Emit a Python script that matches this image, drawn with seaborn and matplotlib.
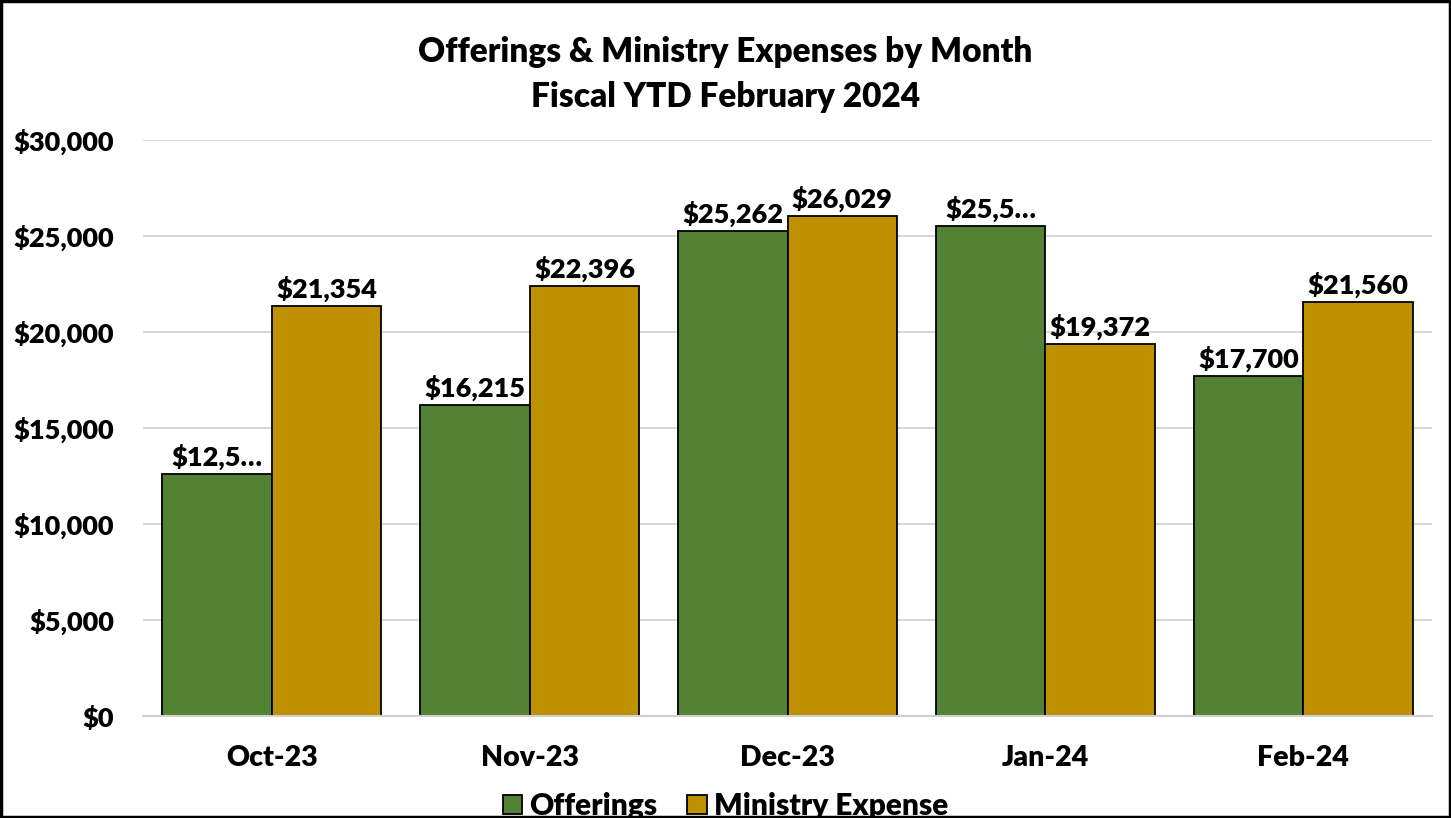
import seaborn as sns
import matplotlib.pyplot as plt
import pandas as pd
from matplotlib.patches import Rectangle
from matplotlib.ticker import FuncFormatter

# data
months = ['Oct-23', 'Nov-23', 'Dec-23', 'Jan-24', 'Feb-24']
offerings = [12600, 16215, 25262, 25520, 17700]
ministry_expense = [21354, 22396, 26029, 19372, 21560]
offering_labels = ['$12,5…', '$16,215', '$25,262', '$25,5…', '$17,700']
expense_labels = ['$21,354', '$22,396', '$26,029', '$19,372', '$21,560']

df = pd.DataFrame({
    'Month': months * 2,
    'Amount': offerings + ministry_expense,
    'Series': ['Offerings'] * 5 + ['Ministry Expense'] * 5,
})

sns.set_style('white')
plt.rcParams['font.family'] = ['Lato', 'DejaVu Sans']
plt.rcParams['text.color'] = 'black'
W = 'heavy'

fig = plt.figure(figsize=(14.51, 8.18), dpi=100)
ax = fig.add_axes([143 / 1451, 1 - 716 / 818, (1432 - 143) / 1451, (716 - 140) / 818])

sns.barplot(data=df, x='Month', y='Amount', hue='Series',
            palette={'Offerings': '#548235', 'Ministry Expense': '#BF9000'},
            width=0.85, gap=0, edgecolor='black', linewidth=1.3,
            saturation=1, ax=ax, legend=True)

for cont, labs in zip(ax.containers, [offering_labels, expense_labels]):
    ax.bar_label(cont, labels=labs, padding=3, fontsize=19.5, fontweight=W, color='black')

ax.set_ylim(0, 30000)
ax.set_xlim(-0.5, 4.5)
ax.set_yticks(range(0, 30001, 5000))
ax.yaxis.set_major_formatter(FuncFormatter(lambda v, p: f'${v:,.0f}'))
ax.grid(axis='y', color='#d9d9d9', linewidth=1.5)
ax.set_axisbelow(True)
for s in ['top', 'right', 'left']:
    ax.spines[s].set_visible(False)
ax.spines['bottom'].set_color('#d0d0d0')
ax.spines['bottom'].set_linewidth(1.5)
ax.set_xlabel('')
ax.set_ylabel('')

# category boundary ticks
ax.set_xticks([i - 0.5 for i in range(6)], minor=True)
ax.tick_params(axis='x', which='minor', length=8, color='#d0d0d0', width=1.5, direction='out')
ax.tick_params(axis='x', which='major', length=0, pad=21, labelsize=20.5, labelcolor='black')
ax.tick_params(axis='y', length=0, pad=21, labelsize=19.5, labelcolor='black')
for t in ax.get_xticklabels() + ax.get_yticklabels():
    t.set_fontweight(W)

ax.get_legend().remove()
handles, labels = ax.get_legend_handles_labels()
fig.legend(handles, labels, loc='center', bbox_to_anchor=(0.5, 1 - 806 / 818),
           ncol=2, frameon=False, handlelength=0.65, handleheight=0.65,
           handletextpad=0.25, columnspacing=1.0, prop={'weight': W, 'size': 21.5})

fig.text(0.5, 1 - 52 / 818, 'Offerings & Ministry Expenses by Month', ha='center', va='center',
         fontsize=24, fontweight=W)
fig.text(0.5, 1 - 97 / 818, 'Fiscal YTD February 2024', ha='center', va='center',
         fontsize=24, fontweight=W)

fig.patches.append(Rectangle((0.001, 0.001), 0.998, 0.998, transform=fig.transFigure,
                             fill=False, edgecolor='black', linewidth=2.5))

fig.savefig('out.png', dpi=100)
